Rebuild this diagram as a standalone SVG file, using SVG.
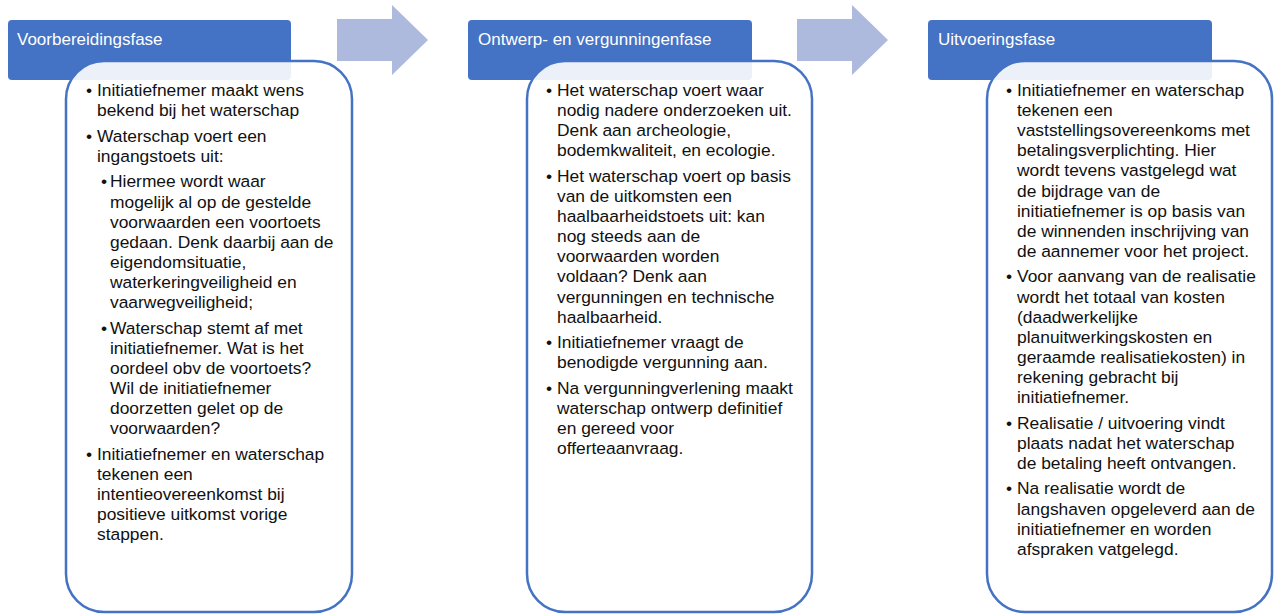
<svg xmlns="http://www.w3.org/2000/svg" width="1275" height="615" viewBox="0 0 1275 615">
<style>
.hdr{fill:#4472C4;}
.hdrt{font-family:"Liberation Sans",Arial,sans-serif;font-size:17px;fill:#FFFFFF;}
.body{fill:#FFFFFF;fill-opacity:0.9;stroke:#4472C4;stroke-width:2.5;}
.arrow{fill:#ADBADE;}
.t{font-family:"Liberation Sans",Arial,sans-serif;font-size:17.4px;fill:#111111;}
.b{font-family:"Liberation Sans",Arial,sans-serif;font-size:17.4px;fill:#111111;text-anchor:middle;}
</style>
<rect width="1275" height="615" fill="#FFFFFF"/>
<g id="connectors">
<polygon id="arrow1" class="arrow" points="337,19 392,19 392,5 428,40 392,75 392,61 337,61"/>
<polygon id="arrow2" class="arrow" points="797,19 852,19 852,5 888,40 852,75 852,61 797,61"/>
</g>
<g id="phase1">
<g id="phase1-header">
<rect class="hdr" x="8" y="20" width="283" height="60" rx="4"/>
<text class="hdrt" x="17" y="45">Voorbereidingsfase</text>
</g>
<g id="phase1-body">
<rect class="body" x="66" y="61" width="286" height="551" rx="38"/>
<text class="b"><tspan x="89" y="96">•</tspan><tspan x="89" y="141.7">•</tspan><tspan x="104" y="187.4">•</tspan><tspan x="104" y="333.6">•</tspan><tspan x="89" y="459.7">•</tspan></text>
<text class="t">
<tspan x="97" y="96">Initiatiefnemer maakt wens</tspan>
<tspan x="97" y="116.1">bekend bij het waterschap</tspan>
<tspan x="97" y="141.7">Waterschap voert een</tspan>
<tspan x="97" y="161.8">ingangstoets uit:</tspan>
<tspan x="110" y="187.4">Hiermee wordt waar</tspan>
<tspan x="110" y="207.5">mogelijk al op de gestelde</tspan>
<tspan x="110" y="227.6">voorwaarden een voortoets</tspan>
<tspan x="110" y="247.7">gedaan. Denk daarbij aan de</tspan>
<tspan x="110" y="267.8">eigendomsituatie,</tspan>
<tspan x="110" y="287.9">waterkeringveiligheid en</tspan>
<tspan x="110" y="308">vaarwegveiligheid;</tspan>
<tspan x="110" y="333.6">Waterschap stemt af met</tspan>
<tspan x="110" y="353.7">initiatiefnemer. Wat is het</tspan>
<tspan x="110" y="373.8">oordeel obv de voortoets?</tspan>
<tspan x="110" y="393.9">Wil de initiatiefnemer</tspan>
<tspan x="110" y="414">doorzetten gelet op de</tspan>
<tspan x="110" y="434.1">voorwaarden?</tspan>
<tspan x="97" y="459.7">Initiatiefnemer en waterschap</tspan>
<tspan x="97" y="479.8">tekenen een</tspan>
<tspan x="97" y="499.9">intentieovereenkomst bij</tspan>
<tspan x="97" y="520">positieve uitkomst vorige</tspan>
<tspan x="97" y="540.1">stappen.</tspan>
</text>
</g>
</g>
<g id="phase2">
<g id="phase2-header">
<rect class="hdr" x="468" y="20" width="284" height="60" rx="4"/>
<text class="hdrt" x="478" y="45">Ontwerp- en vergunningenfase</text>
</g>
<g id="phase2-body">
<rect class="body" x="527" y="61" width="285" height="551" rx="38"/>
<text class="b"><tspan x="549" y="96">•</tspan><tspan x="549" y="181.9">•</tspan><tspan x="549" y="348.2">•</tspan><tspan x="549" y="393.9">•</tspan></text>
<text class="t">
<tspan x="557" y="96">Het waterschap voert waar</tspan>
<tspan x="557" y="116.1">nodig nadere onderzoeken uit.</tspan>
<tspan x="557" y="136.2">Denk aan archeologie,</tspan>
<tspan x="557" y="156.3">bodemkwaliteit, en ecologie.</tspan>
<tspan x="557" y="181.9">Het waterschap voert op basis</tspan>
<tspan x="557" y="202">van de uitkomsten een</tspan>
<tspan x="557" y="222.1">haalbaarheidstoets uit: kan</tspan>
<tspan x="557" y="242.2">nog steeds aan de</tspan>
<tspan x="557" y="262.3">voorwaarden worden</tspan>
<tspan x="557" y="282.4">voldaan? Denk aan</tspan>
<tspan x="557" y="302.5">vergunningen en technische</tspan>
<tspan x="557" y="322.6">haalbaarheid.</tspan>
<tspan x="557" y="348.2">Initiatiefnemer vraagt de</tspan>
<tspan x="557" y="368.3">benodigde vergunning aan.</tspan>
<tspan x="557" y="393.9">Na vergunningverlening maakt</tspan>
<tspan x="557" y="414">waterschap ontwerp definitief</tspan>
<tspan x="557" y="434.1">en gereed voor</tspan>
<tspan x="557" y="454.2">offerteaanvraag.</tspan>
</text>
</g>
</g>
<g id="phase3">
<g id="phase3-header">
<rect class="hdr" x="928" y="20" width="284" height="60" rx="4"/>
<text class="hdrt" x="938" y="45">Uitvoeringsfase</text>
</g>
<g id="phase3-body">
<rect class="body" x="987" y="61" width="285" height="551" rx="38"/>
<text class="b"><tspan x="1009" y="96">•</tspan><tspan x="1009" y="282.4">•</tspan><tspan x="1009" y="428.6">•</tspan><tspan x="1009" y="494.4">•</tspan></text>
<text class="t">
<tspan x="1017" y="96">Initiatiefnemer en waterschap</tspan>
<tspan x="1017" y="116.1">tekenen een</tspan>
<tspan x="1017" y="136.2">vaststellingsovereenkoms met</tspan>
<tspan x="1017" y="156.3">betalingsverplichting. Hier</tspan>
<tspan x="1017" y="176.4">wordt tevens vastgelegd wat</tspan>
<tspan x="1017" y="196.5">de bijdrage van de</tspan>
<tspan x="1017" y="216.6">initiatiefnemer is op basis van</tspan>
<tspan x="1017" y="236.7">de winnenden inschrijving van</tspan>
<tspan x="1017" y="256.8">de aannemer voor het project.</tspan>
<tspan x="1017" y="282.4">Voor aanvang van de realisatie</tspan>
<tspan x="1017" y="302.5">wordt het totaal van kosten</tspan>
<tspan x="1017" y="322.6">(daadwerkelijke</tspan>
<tspan x="1017" y="342.7">planuitwerkingskosten en</tspan>
<tspan x="1017" y="362.8">geraamde realisatiekosten) in</tspan>
<tspan x="1017" y="382.9">rekening gebracht bij</tspan>
<tspan x="1017" y="403">initiatiefnemer.</tspan>
<tspan x="1017" y="428.6">Realisatie / uitvoering vindt</tspan>
<tspan x="1017" y="448.7">plaats nadat het waterschap</tspan>
<tspan x="1017" y="468.8">de betaling heeft ontvangen.</tspan>
<tspan x="1017" y="494.4">Na realisatie wordt de</tspan>
<tspan x="1017" y="514.5">langshaven opgeleverd aan de</tspan>
<tspan x="1017" y="534.6">initiatiefnemer en worden</tspan>
<tspan x="1017" y="554.7">afspraken vatgelegd.</tspan>
</text>
</g>
</g>
</svg>
